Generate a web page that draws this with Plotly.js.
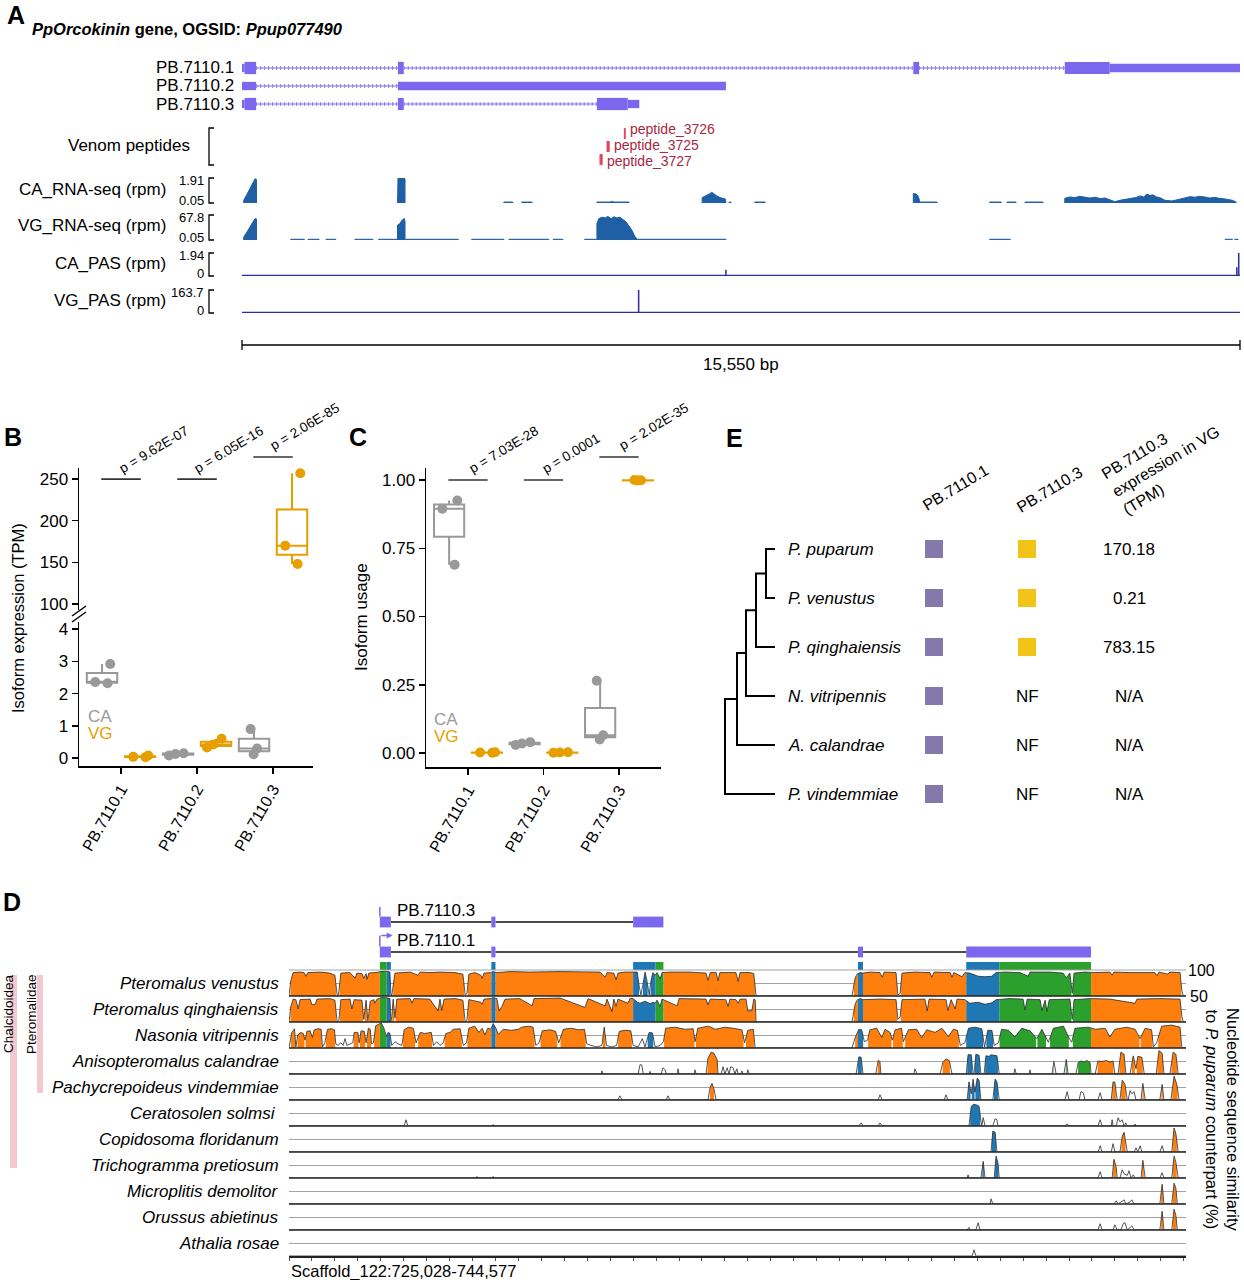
<!DOCTYPE html>
<html><head><meta charset="utf-8">
<script src="https://cdn.plot.ly/plotly-3.0.1.min.js"></script>
<style>html,body{margin:0;padding:0;background:#fff}#chart{width:1244px;height:1280px}</style>
</head><body><div id="chart"></div>
<script>
// ===================== DATA =====================
// ---- Panel A (positions in kb from gene start) ----
const geneLengthKb = 15.55;
const isoformNames = ['PB.7110.1', 'PB.7110.2', 'PB.7110.3'];
const iso1Exons = [[0, 0.04, 'u'], [0.04, 0.22, 'c'], [2.43, 2.52, 'c'], [10.46, 10.55, 'c'], [12.82, 13.52, 'c'], [13.52, 15.55, 'u']];
const iso2Exons = [[0, 0.22, 'u'], [2.43, 7.54, 'u']];
const iso3Exons = [[0, 0.04, 'u'], [0.04, 0.22, 'c'], [2.43, 2.52, 'c'], [5.53, 6.01, 'c'], [6.01, 6.19, 'u']];
const peptideNames = ['peptide_3726', 'peptide_3725', 'peptide_3727'];
const peptideStart = [5.95, 5.68, 5.57];
const peptideEnd = [5.98, 5.73, 5.62];
const trackLabels = ['Venom peptides', 'CA_RNA-seq (rpm)', 'VG_RNA-seq (rpm)', 'CA_PAS (rpm)', 'VG_PAS (rpm)'];
const caRnaRange = [0.05, 1.91];
const vgRnaRange = [0.05, 67.8];
const caPasMax = 1.94;
const vgPasMax = 163.7;
const trackScaleText = [['1.91', '0.05'], ['67.8', '0.05'], ['1.94', '0'], ['163.7', '0']];
const caRnaBlocks = [
  [[0.027, 0.25], [0.078, 0.7], [0.125, 1.1], [0.171, 1.6], [0.203, 1.85], [0.226, 1.8]],
  [[2.423, 1.75], [2.431, 1.91], [2.524, 1.91], [2.540, 1.85]],
  [[4.08, 0.12], [4.22, 0.12]],
  [[4.36, 0.12], [4.52, 0.12]],
  [[5.53, 0.12], [5.74, 0.12], [5.77, 0.17], [5.80, 0.12], [6.03, 0.12]],
  [[7.17, 0.45], [7.21, 0.55], [7.25, 0.62], [7.28, 0.72], [7.32, 0.85], [7.36, 0.7], [7.39, 0.6], [7.45, 0.45], [7.53, 0.35], [7.54, 0.12]],
  [[7.59, 0.12], [7.62, 0.12]],
  [[7.99, 0.12], [8.15, 0.12]],
  [[10.46, 0.75], [10.50, 0.72], [10.53, 0.6], [10.55, 0.35], [10.56, 0.12], [10.83, 0.12]],
  [[11.65, 0.12], [11.83, 0.12]],
  [[11.92, 0.12], [12.06, 0.12]],
  [[12.20, 0.12], [12.48, 0.12]],
  [[12.82, 0.4], [12.90, 0.5], [12.98, 0.45], [13.05, 0.55], [13.13, 0.5], [13.21, 0.42], [13.29, 0.48], [13.37, 0.38], [13.45, 0.42], [13.52, 0.3],
   [13.60, 0.15], [13.68, 0.25], [13.76, 0.3], [13.84, 0.38], [13.92, 0.45], [14.0, 0.58], [14.05, 0.5], [14.10, 0.72], [14.15, 0.6], [14.19, 0.66],
   [14.25, 0.5], [14.30, 0.45], [14.38, 0.25], [14.49, 0.2], [14.58, 0.32], [14.69, 0.45], [14.77, 0.52], [14.85, 0.48], [14.92, 0.55], [15.0, 0.5],
   [15.08, 0.42], [15.16, 0.47], [15.24, 0.38], [15.32, 0.35], [15.43, 0.25], [15.49, 0.12]]
];
const vgRnaBlocks = [
  [[0.027, 8], [0.078, 22], [0.125, 35], [0.171, 50], [0.203, 58], [0.226, 57]],
  [[0.76, 2], [0.97, 2]], [[1.03, 2], [1.20, 2]], [[1.31, 2], [1.46, 2]], [[1.76, 2], [2.04, 2]], [[2.13, 2], [2.42, 2]],
  [[2.423, 40], [2.46, 45], [2.50, 55], [2.53, 58], [2.54, 50]],
  [[2.55, 2], [3.37, 2]], [[3.58, 2], [4.08, 2]], [[4.16, 2], [4.78, 2]], [[4.85, 2], [5.00, 2]], [[5.34, 2], [5.52, 2]],
  [[5.53, 45], [5.56, 58], [5.61, 62], [5.66, 60], [5.70, 64], [5.75, 58], [5.80, 63], [5.84, 60], [5.89, 62], [5.94, 55],
   [5.98, 50], [6.03, 38], [6.08, 25], [6.12, 10], [6.15, 3], [6.16, 2], [7.54, 2]],
  [[11.65, 2], [11.97, 2]], [[15.32, 2], [15.43, 2]], [[15.47, 2], [15.52, 2]]
];
const caPasPos = [7.54, 15.50, 15.53];
const caPasVal = [0.5, 0.7, 1.94];
const vgPasPos = [6.18];
const vgPasVal = [163.7];

// ---- Panels B & C ----
const isoCats = ['PB.7110.1', 'PB.7110.2', 'PB.7110.3'];
const tpmCA = [[2.92, 2.36, 2.32], [0.15, 0.13, 0.08], [0.90, 0.30, 0.12]];
const tpmVG = [[0.08, 0.04, 0.03], [0.60, 0.42, 0.33], [257, 170, 148]];
const tpmP = ['9.62E-07', '6.05E-16', '2.06E-85'];
const usageCA = [[0.925, 0.895, 0.69], [0.04, 0.035, 0.03], [0.265, 0.065, 0.05]];
const usageVG = [[0.003, 0.002, 0.001], [0.002, 0.001, 0.003], [0.999, 0.998, 1.0]];
const usageP = ['7.03E-28', '0.0001', '2.02E-35'];

// ---- Panel E ----
const speciesE = ['P. puparum', 'P. venustus', 'P. qinghaiensis', 'N. vitripennis', 'A. calandrae', 'P. vindemmiae'];
const hasPB1 = [1, 1, 1, 1, 1, 1];
const hasPB3 = [1, 1, 1, 0, 0, 0];
const vgExpr = ['170.18', '0.21', '783.15', 'N/A', 'N/A', 'N/A'];
const treeNodes = [['n1', 4.1, 0, 1], ['n2', 3.1, 'n1', 2], ['n3', 2.1, 'n2', 3], ['n4', 1.2, 'n3', 4], ['root', 0, 'n4', 5]];
const leafDepth = 5.0;

// ---- Panel D (kb from Scaffold_122:725,028) ----
const scaffoldKb = 19.55;
const dIsoNames = ['PB.7110.3', 'PB.7110.1'];
const dIso3Exons = [[1.98, 2.22], [4.41, 4.50], [7.50, 8.16]];
const dIso1Exons = [[1.98, 2.22], [4.41, 4.50], [12.40, 12.51], [14.76, 17.48]];
const cdsRegions = [[2.13, 2.22], [4.41, 4.50], [7.50, 7.99], [12.40, 12.51], [14.76, 15.48]];
const utrRegions = [[1.98, 2.13], [7.99, 8.16], [15.48, 17.48]];
const dSpecies = ['Pteromalus venustus', 'Pteromalus qinghaiensis', 'Nasonia vitripennis', 'Anisopteromalus calandrae',
  'Pachycrepoideus vindemmiae', 'Ceratosolen solmsi ', 'Copidosoma floridanum', 'Trichogramma pretiosum',
  'Microplitis demolitor', 'Orussus abietinus', 'Athalia rosae'];
const venustusSim = [[0,50],[0.04,80],[0.09,95],[0.24,96],[0.33,95],[0.37,88],[0.41,95],[0.68,96],[0.89,94],[1.00,90],[1.05,52],[1.07,50],[1.09,60],[1.13,94],[1.33,95],[1.44,84],[1.48,94],[1.59,93],[1.63,84],[1.68,93],[1.70,82],[1.74,94],[1.87,95],[1.96,96],[2.01,98],[2.11,98],[2.16,97],[2.20,96],[2.22,55],[2.24,50],[2.27,70],[2.31,94],[2.64,96],[2.81,90],[2.86,96],[3.07,95],[3.29,96],[3.62,95],[3.79,92],[3.84,52],[3.88,55],[3.92,92],[4.05,95],[4.18,90],[4.21,84],[4.25,94],[4.40,95],[4.45,97],[4.49,96],[4.53,95],[4.82,97],[5.25,96],[5.91,97],[6.34,96],[6.78,96],[6.89,86],[6.93,95],[7.08,94],[7.13,81],[7.17,94],[7.32,96],[7.50,96],[7.59,96],[7.63,70],[7.67,52],[7.72,75],[7.76,96],[7.80,80],[7.85,52],[7.89,80],[7.93,95],[7.98,90],[8.02,95],[8.09,83],[8.13,95],[8.30,96],[8.74,96],[9.09,94],[9.13,80],[9.18,95],[9.31,95],[9.35,79],[9.39,95],[9.74,95],[9.79,78],[9.83,95],[10.05,95],[10.13,93],[10.18,50],[12.27,50],[12.34,85],[12.38,92],[12.45,95],[12.51,94],[12.67,96],[12.88,95],[12.93,86],[12.97,96],[13.23,95],[13.27,52],[13.32,55],[13.36,94],[13.64,96],[13.97,95],[14.01,86],[14.06,96],[14.41,95],[14.45,86],[14.49,95],[14.67,87],[14.73,95],[14.84,94],[15.02,88],[15.17,87],[15.32,88],[15.41,95],[15.61,96],[15.93,95],[16.11,88],[16.15,96],[16.59,96],[16.87,94],[16.94,85],[17.02,94],[17.07,55],[17.11,94],[17.35,96],[17.57,95],[17.89,96],[17.94,90],[17.98,96],[18.33,95],[18.87,95],[18.92,89],[18.96,96],[19.16,92],[19.20,96],[19.42,95],[19.46,60],[19.49,50],[19.55,50]];
const qinghaiensisSim = [[0,50],[0.04,80],[0.09,94],[0.15,93],[0.20,75],[0.24,93],[0.46,94],[0.50,83],[0.57,84],[0.61,94],[0.89,95],[1.00,92],[1.05,50],[1.09,55],[1.13,93],[1.33,94],[1.37,75],[1.42,93],[1.59,92],[1.63,55],[1.68,92],[1.72,52],[1.77,90],[1.85,93],[1.87,86],[1.92,94],[1.96,95],[2.01,97],[2.11,97],[2.16,96],[2.20,95],[2.22,50],[2.24,60],[2.27,94],[2.31,58],[2.35,94],[2.64,95],[2.68,86],[2.72,95],[3.07,94],[3.25,71],[3.29,94],[3.33,72],[3.38,94],[3.62,95],[3.79,92],[3.84,50],[3.88,55],[3.92,93],[4.18,88],[4.21,84],[4.25,94],[4.40,95],[4.45,97],[4.49,96],[4.53,95],[4.58,71],[4.64,80],[4.71,94],[5.03,95],[5.30,81],[5.34,95],[5.91,96],[6.45,78],[6.52,95],[6.89,81],[6.93,94],[7.04,70],[7.08,94],[7.13,80],[7.17,94],[7.39,86],[7.43,95],[7.50,95],[7.59,88],[7.65,86],[7.76,90],[7.87,85],[7.93,88],[7.98,86],[8.02,92],[8.09,80],[8.13,94],[8.46,81],[8.50,95],[9.09,94],[9.13,83],[9.18,94],[9.52,93],[9.57,80],[9.61,94],[9.74,93],[9.79,86],[9.83,94],[9.96,94],[10.00,71],[10.09,72],[10.13,94],[10.16,93],[10.18,50],[12.27,50],[12.34,85],[12.38,92],[12.45,95],[12.51,93],[12.88,94],[13.23,93],[13.27,55],[13.32,60],[13.36,93],[13.86,94],[13.91,71],[13.95,94],[14.32,93],[14.36,72],[14.43,93],[14.52,75],[14.56,94],[14.73,93],[14.84,86],[15.02,88],[15.17,84],[15.32,87],[15.41,93],[15.71,95],[16.00,94],[16.04,73],[16.09,94],[16.37,93],[16.41,72],[16.48,92],[16.52,70],[16.57,93],[17.02,94],[17.07,55],[17.11,93],[17.46,95],[17.89,94],[18.44,86],[18.48,94],[18.98,95],[19.42,94],[19.46,60],[19.49,50],[19.55,50]];
const nasoniaSim = [[0,50],[0.06,80],[0.12,87],[0.15,52],[0.19,75],[0.26,80],[0.31,78],[0.35,65],[0.39,82],[0.46,83],[0.51,70],[0.55,85],[0.63,87],[0.70,86],[0.73,52],[0.78,60],[0.84,86],[0.93,87],[0.99,85],[1.02,58],[1.07,55],[1.13,60],[1.18,55],[1.22,68],[1.26,55],[1.33,58],[1.39,60],[1.42,80],[1.50,80],[1.53,60],[1.57,83],[1.64,82],[1.68,60],[1.73,88],[1.77,86],[1.80,58],[1.84,60],[1.89,93],[1.95,95],[2.01,98],[2.06,90],[2.09,80],[2.13,72],[2.16,80],[2.20,78],[2.24,55],[2.31,62],[2.38,58],[2.46,55],[2.51,85],[2.60,90],[2.71,88],[2.77,60],[2.86,80],[2.96,78],[3.10,80],[3.15,55],[3.22,62],[3.29,55],[3.36,60],[3.42,78],[3.51,80],[3.58,86],[3.73,87],[3.80,55],[3.87,60],[3.92,88],[4.05,92],[4.14,80],[4.21,88],[4.27,75],[4.33,88],[4.40,86],[4.45,97],[4.51,88],[4.56,76],[4.67,86],[4.85,84],[5.00,86],[5.07,90],[5.22,92],[5.32,90],[5.38,55],[5.45,60],[5.52,83],[5.69,85],[5.81,82],[5.88,60],[5.98,86],[6.16,88],[6.31,85],[6.44,86],[6.49,58],[6.58,55],[6.71,52],[6.82,55],[6.87,90],[6.92,55],[7.03,52],[7.14,55],[7.20,82],[7.32,84],[7.45,83],[7.50,55],[7.61,52],[7.70,68],[7.76,52],[7.85,80],[7.92,79],[7.98,52],[8.09,55],[8.16,62],[8.21,88],[8.41,90],[8.63,86],[8.81,87],[8.85,62],[8.91,88],[9.14,92],[9.29,86],[9.50,90],[9.68,88],[9.79,86],[9.87,85],[9.93,60],[10.00,84],[10.12,86],[10.16,50],[12.27,50],[12.34,70],[12.42,86],[12.48,85],[12.54,62],[12.61,65],[12.66,85],[12.81,88],[12.92,70],[12.99,86],[13.10,80],[13.15,65],[13.21,85],[13.35,88],[13.39,62],[13.50,85],[13.68,86],[13.79,70],[13.90,85],[14.08,80],[14.23,88],[14.37,72],[14.48,86],[14.57,84],[14.63,55],[14.73,60],[14.81,88],[14.95,90],[15.10,87],[15.16,52],[15.23,84],[15.32,84],[15.37,55],[15.46,60],[15.53,86],[15.68,84],[15.82,71],[15.97,88],[16.15,83],[16.30,68],[16.41,86],[16.55,61],[16.66,88],[16.88,92],[16.99,71],[17.06,61],[17.13,88],[17.42,90],[17.57,86],[17.79,88],[17.89,71],[18.00,86],[18.26,90],[18.44,86],[18.55,68],[18.66,88],[18.80,85],[18.84,52],[18.91,60],[19.02,92],[19.24,94],[19.42,90],[19.46,50],[19.55,50]];
const calandraeSim = [[0,50],[6.80,50],[6.82,56],[6.84,50],[7.61,50],[7.65,68],[7.69,67],[7.72,50],[7.85,50],[7.87,55],[7.89,50],[8.11,50],[8.15,62],[8.20,58],[8.22,50],[8.46,50],[8.48,60],[8.50,50],[8.83,50],[8.85,58],[8.87,50],[9.09,50],[9.13,80],[9.20,92],[9.26,90],[9.33,78],[9.35,50],[9.42,50],[9.46,64],[9.50,50],[9.55,62],[9.59,50],[9.63,64],[9.68,62],[9.72,50],[9.76,60],[9.79,50],[9.85,50],[9.87,56],[9.90,50],[9.98,50],[10.00,58],[10.03,50],[12.36,50],[12.42,83],[12.47,82],[12.51,50],[12.79,50],[12.84,76],[12.88,74],[12.90,50],[13.62,50],[13.64,60],[13.69,50],[14.19,50],[14.25,72],[14.32,79],[14.39,76],[14.45,50],[14.76,50],[14.80,87],[14.87,87],[14.91,50],[14.93,50],[14.97,88],[15.04,86],[15.08,50],[15.15,50],[15.19,85],[15.26,84],[15.30,87],[15.37,86],[15.43,85],[15.48,50],[15.80,50],[15.82,60],[15.85,50],[16.13,50],[16.15,58],[16.17,50],[16.63,50],[16.67,74],[16.72,50],[16.89,50],[16.94,78],[16.98,50],[17.15,50],[17.20,72],[17.26,75],[17.33,73],[17.39,76],[17.46,72],[17.48,50],[17.57,50],[17.63,75],[17.72,74],[17.81,76],[17.89,73],[17.96,75],[18.00,50],[18.07,50],[18.13,92],[18.20,88],[18.24,50],[18.33,50],[18.40,85],[18.46,60],[18.50,84],[18.59,82],[18.64,50],[18.90,50],[18.96,95],[19.03,90],[19.07,50],[19.20,50],[19.27,92],[19.33,88],[19.38,50],[19.55,50]];
const vindemmiaeSim = [[0,50],[7.17,50],[7.21,58],[7.26,50],[8.22,50],[8.26,58],[8.30,50],[9.13,50],[9.18,75],[9.22,82],[9.26,72],[9.31,50],[12.84,50],[12.88,60],[12.93,50],[14.28,50],[14.32,60],[14.36,50],[14.78,50],[14.82,85],[14.87,62],[14.91,90],[14.95,65],[15.00,92],[15.04,88],[15.08,50],[15.34,50],[15.39,90],[15.43,85],[15.48,50],[16.91,50],[16.96,66],[17.00,50],[17.22,50],[17.26,66],[17.31,64],[17.35,50],[17.63,50],[17.68,64],[17.72,50],[17.92,50],[17.96,85],[18.00,84],[18.05,50],[18.11,50],[18.16,88],[18.22,80],[18.27,50],[18.29,50],[18.33,68],[18.37,62],[18.42,66],[18.46,50],[18.57,50],[18.61,82],[18.66,50],[18.98,50],[19.03,80],[19.07,50],[19.22,50],[19.29,96],[19.35,80],[19.40,50],[19.55,50]];
const solmsiSim = [[0,50],[2.51,50],[2.55,62],[2.59,50],[4.42,50],[4.45,53],[4.47,50],[12.42,50],[12.47,56],[12.51,50],[12.84,50],[12.88,56],[12.93,50],[14.82,50],[14.87,88],[14.93,92],[15.00,90],[15.04,88],[15.08,60],[15.10,50],[15.13,66],[15.17,50],[15.34,50],[15.39,64],[15.43,62],[15.45,50],[16.91,50],[16.96,54],[17.00,50],[17.63,50],[17.68,62],[17.72,50],[17.92,50],[17.94,62],[17.96,50],[18.03,50],[18.07,66],[18.11,58],[18.16,62],[18.20,50],[18.24,56],[18.27,50],[18.42,50],[18.44,54],[18.46,50],[19.55,50]];
const floridanumSim = [[0,50],[15.30,50],[15.34,90],[15.39,88],[15.43,50],[17.63,50],[17.68,62],[17.72,50],[17.92,50],[17.96,66],[18.00,50],[18.11,50],[18.16,80],[18.20,88],[18.27,50],[18.42,50],[18.46,58],[18.50,50],[18.55,62],[18.59,50],[18.98,50],[19.03,62],[19.07,50],[19.24,50],[19.29,96],[19.33,85],[19.38,50],[19.55,50]];
const pretiosumSim = [[0,50],[4.08,50],[4.10,53],[4.12,50],[4.42,50],[4.45,53],[4.47,50],[14.78,50],[14.80,56],[14.82,50],[15.08,50],[15.13,82],[15.17,50],[15.37,50],[15.41,92],[15.45,80],[15.48,50],[17.63,50],[17.68,62],[17.72,50],[17.94,50],[17.98,86],[18.03,70],[18.05,50],[18.11,50],[18.16,66],[18.20,58],[18.27,55],[18.31,64],[18.35,50],[18.40,56],[18.44,50],[18.57,50],[18.61,84],[18.66,50],[18.98,50],[19.03,60],[19.07,50],[19.24,50],[19.29,92],[19.33,80],[19.38,50],[19.55,50]];
const demolitorSim = [[0,50],[15.28,50],[15.30,60],[15.34,50],[17.98,50],[18.03,56],[18.07,50],[18.16,55],[18.20,58],[18.24,50],[18.33,54],[18.37,58],[18.42,50],[18.98,50],[19.03,88],[19.07,50],[19.24,50],[19.29,90],[19.33,80],[19.36,50],[19.55,50]];
const abietinusSim = [[0,50],[14.78,50],[14.82,55],[14.84,50],[14.97,50],[15.02,64],[15.06,50],[17.63,50],[17.68,62],[17.72,50],[17.96,50],[18.00,60],[18.05,50],[18.13,50],[18.18,62],[18.22,64],[18.27,50],[18.33,55],[18.37,58],[18.42,50],[18.98,50],[19.03,86],[19.07,50],[19.24,50],[19.29,90],[19.33,78],[19.36,50],[19.55,50]];
const rosaeSim = [[0,50],[14.89,50],[14.93,62],[14.97,50],[19.55,50]];
const dProfiles = [venustusSim, qinghaiensisSim, nasoniaSim, calandraeSim, vindemmiaeSim, solmsiSim, floridanumSim, pretiosumSim, demolitorSim, abietinusSim, rosaeSim];
const conservedThreshold = 70;

// ===================== LAYOUT HELPERS =====================
const W = 1244, H = 1280;
const FONT = 'Liberation Sans, Arial, Helvetica, sans-serif';
const px = v => v / W;
const py = v => 1 - v / H;
const xdom = (a, b) => [px(a), px(b)];
const ydom = (top, bottom) => [py(bottom), py(top)];
const GENE = '#7b68ee', RNA = '#1f5fa6', PAS = '#2e2ea0';
const GRAY = '#999999', ORANGE = '#E69F00';
const COL = {cns: '#ff7f0e', cds: '#1f77b4', utr: '#2ca02c'};

const traces = [], shapes = [], annotations = [];
const layout = {
  width: W, height: H, margin: {l: 0, r: 0, t: 0, b: 0},
  paper_bgcolor: '#ffffff', plot_bgcolor: 'rgba(0,0,0,0)', showlegend: false, boxmode: 'overlay',
  font: {family: FONT, size: 16, color: '#000'}, shapes, annotations
};
function fnt(size, color, extra) { return Object.assign({family: FONT, size: size, color: color || '#000'}, extra || {}); }
function label(text, x, y, size, opts) {
  annotations.push(Object.assign({text: text, x: x, y: y, xref: 'paper', yref: 'paper', showarrow: false,
    font: fnt(size || 17), xanchor: 'center', yanchor: 'middle'}, opts || {}));
}
function hidden(extra) { return Object.assign({visible: false, showgrid: false, zeroline: false, fixedrange: true}, extra); }
function bracket(top, bottom) {
  const p = 'M' + px(214) + ',' + py(top) + ' L' + px(209) + ',' + py(top) + ' L' + px(209) + ',' + py(bottom) + ' L' + px(214) + ',' + py(bottom);
  shapes.push({type: 'path', xref: 'paper', yref: 'paper', path: p, line: {color: '#000', width: 1.3}});
}
function blocksPoly(blocks, base) {
  const xs = [], ys = [];
  blocks.forEach(b => {
    xs.push(b[0][0]); ys.push(base);
    b.forEach(p => { xs.push(p[0]); ys.push(p[1]); });
    xs.push(b[b.length - 1][0]); ys.push(base);
    xs.push(null); ys.push(null);
  });
  return {xs, ys};
}

// panel letters
[['A', 16, 15], ['B', 13, 437], ['C', 358, 437], ['E', 734, 438], ['D', 12, 902]].forEach(([t, x, y]) =>
  label('<b>' + t + '</b>', px(x), py(y), 25));

// ===================== PANEL A =====================
layout.xaxis = hidden({domain: xdom(242, 1240), range: [0, geneLengthKb], anchor: 'y'});
layout.yaxis = hidden({domain: ydom(59, 113), range: [3.5, 0.5], anchor: 'x'});
layout.yaxis2 = hidden({domain: ydom(127, 166), range: [0, 3], anchor: 'x'});
layout.yaxis3 = hidden({domain: ydom(178, 203), range: caRnaRange, anchor: 'x'});
layout.yaxis4 = hidden({domain: ydom(215, 240), range: vgRnaRange, anchor: 'x'});
layout.yaxis5 = hidden({domain: ydom(253, 276), range: [-0.05, caPasMax], anchor: 'x'});
layout.yaxis6 = hidden({domain: ydom(290, 313), range: [-4, vgPasMax], anchor: 'x'});
bracket(128, 165);
[[178, 203], [215, 240], [253, 276], [290, 313]].forEach(([t, b], i) => {
  bracket(t, b);
  label(trackScaleText[i][0], px(206), py(t + 2), 13, {xanchor: 'right'});
  label(trackScaleText[i][1], px(206), py(b - 3), 13, {xanchor: 'right'});
});

label('<b><i>PpOrcokinin</i> gene, OGSID: <i>Ppup077490</i></b>', px(30), py(29), 16.5, {xanchor: 'left'});

[iso1Exons, iso2Exons, iso3Exons].forEach((exons, i) => {
  const row = i + 1;
  for (let k = 0; k < exons.length - 1; k++) {
    const a = exons[k][1], b = exons[k + 1][0];
    if (b - a > 0.01) {
      shapes.push({type: 'line', xref: 'x', yref: 'y', x0: a, x1: b, y0: row, y1: row, line: {color: GENE, width: 1}});
      shapes.push({type: 'line', xref: 'x', yref: 'y', x0: a, x1: b, y0: row, y1: row, opacity: 0.8, line: {color: GENE, width: 4, dash: '1px,3px'}});
    }
  }
  exons.forEach(([s, e, kind]) => {
    const h = kind === 'c' ? 0.34 : 0.23;
    shapes.push({type: 'rect', xref: 'x', yref: 'y', x0: s, x1: e, y0: row - h, y1: row + h, fillcolor: GENE, line: {width: 0}});
  });
  label(isoformNames[i], px(236), py(68 + 18 * i), 17, {xanchor: 'right'});
});

const peptideLabelY = [129, 145, 161];
peptideNames.forEach((n, i) => {
  const row = 2.5 - i;
  shapes.push({type: 'rect', xref: 'x', yref: 'y2', x0: peptideStart[i], x1: peptideEnd[i], y0: row - 0.42, y1: row + 0.42, fillcolor: '#e8455c', line: {width: 0}});
  annotations.push({text: n, xref: 'x', yref: 'paper', x: peptideEnd[i], y: py(peptideLabelY[i]), xanchor: 'left', yanchor: 'middle', xshift: 2,
    showarrow: false, font: fnt(14, '#a8283e')});
});

[[trackLabels[0], 192, 145], [trackLabels[1], 168, 189], [trackLabels[2], 168, 226], [trackLabels[3], 168, 263], [trackLabels[4], 168, 300]]
  .forEach(([t, x, y]) => label(t, px(x), py(y), 17, {xanchor: 'right'}));

const caPoly = blocksPoly(caRnaBlocks, 0);
traces.push({type: 'scatter', mode: 'lines', x: caPoly.xs, y: caPoly.ys, xaxis: 'x', yaxis: 'y3', fill: 'toself', fillcolor: RNA, line: {color: RNA, width: 1}, hoverinfo: 'skip'});
const vgPoly = blocksPoly(vgRnaBlocks, 0);
traces.push({type: 'scatter', mode: 'lines', x: vgPoly.xs, y: vgPoly.ys, xaxis: 'x', yaxis: 'y4', fill: 'toself', fillcolor: RNA, line: {color: RNA, width: 1}, hoverinfo: 'skip'});
traces.push({type: 'scatter', mode: 'lines', x: [0, geneLengthKb], y: [0, 0], xaxis: 'x', yaxis: 'y5', line: {color: PAS, width: 1.5}, hoverinfo: 'skip'});
traces.push({type: 'bar', x: caPasPos, y: caPasVal, width: 0.024, xaxis: 'x', yaxis: 'y5', marker: {color: PAS, line: {width: 0}}, hoverinfo: 'skip'});
traces.push({type: 'scatter', mode: 'lines', x: [0, geneLengthKb], y: [0, 0], xaxis: 'x', yaxis: 'y6', line: {color: PAS, width: 1.5}, hoverinfo: 'skip'});
traces.push({type: 'bar', x: vgPasPos, y: vgPasVal, width: 0.024, xaxis: 'x', yaxis: 'y6', marker: {color: PAS, line: {width: 0}}, hoverinfo: 'skip'});

// scale bar spanning the genomic axis domain
const aDom = layout.xaxis.domain;
shapes.push({type: 'line', xref: 'paper', yref: 'paper', x0: aDom[0], x1: aDom[1], y0: py(345), y1: py(345), line: {color: '#000', width: 1.3}});
shapes.push({type: 'line', xref: 'paper', yref: 'paper', x0: aDom[0], x1: aDom[0], y0: py(340), y1: py(350), line: {color: '#000', width: 1.3}});
shapes.push({type: 'line', xref: 'paper', yref: 'paper', x0: aDom[1], x1: aDom[1], y0: py(340), y1: py(350), line: {color: '#000', width: 1.3}});
label(Math.round(geneLengthKb * 1000).toLocaleString('en-US') + ' bp', (aDom[0] + aDom[1]) / 2, py(364), 17);

// ===================== PANELS B & C =====================
function catAxis(domA, domB, range, anchor) {
  return {domain: xdom(domA, domB), range: range, anchor: anchor, tickvals: [1, 2, 3], ticktext: isoCats, tickangle: -60,
    ticks: 'outside', ticklen: 6, tickwidth: 1.5, tickcolor: '#000', showline: true, linewidth: 1.5, linecolor: '#000',
    tickfont: fnt(16), showgrid: false, zeroline: false, fixedrange: true};
}
function valAxis(top, bottom, range, tickvals, ticktext, anchor) {
  return {domain: ydom(top, bottom), range: range, anchor: anchor, tickvals: tickvals, ticktext: ticktext,
    ticks: 'outside', ticklen: 6, tickwidth: 1.5, tickcolor: '#000', showline: true, linewidth: 1.5, linecolor: '#000',
    tickfont: fnt(17), showgrid: false, zeroline: false, fixedrange: true};
}
function boxTrace(vals, cats, offset, color, xa, ya) {
  const x = [], y = [];
  cats.forEach((c, i) => vals[i].forEach(v => { x.push(c + offset); y.push(v); }));
  return {type: 'box', x: x, y: y, xaxis: xa, yaxis: ya, boxpoints: 'all', jitter: 0.7, pointpos: 0, width: 0.4,
    whiskerwidth: 0, quartilemethod: 'inclusive', fillcolor: 'rgba(255,255,255,0)', line: {color: color, width: 2},
    marker: {color: color, size: 10, line: {width: 0}}, hoverinfo: 'skip'};
}
// B
layout.xaxis2 = catAxis(79, 313, [0.447, 3.526], 'y7');
layout.yaxis7 = valAxis(622, 766, [-0.244, 4.22], [0, 1, 2, 3, 4], ['0', '1', '2', '3', '4'], 'x2');
layout.yaxis8 = valAxis(468, 610, [92.7, 263.4], [100, 150, 200, 250], ['100', '150', '200', '250'], 'x2');
traces.push(boxTrace(tpmCA, [1, 2, 3], -0.25, GRAY, 'x2', 'y7'));
traces.push(boxTrace(tpmVG.slice(0, 2), [1, 2], 0.25, ORANGE, 'x2', 'y7'));
traces.push(boxTrace(tpmVG.slice(2), [3], 0.25, ORANGE, 'x2', 'y8'));
shapes.push({type: 'line', xref: 'paper', yref: 'paper', x0: px(72), x1: px(86), y0: py(622), y1: py(612), line: {color: '#000', width: 1.5}});
shapes.push({type: 'line', xref: 'paper', yref: 'paper', x0: px(72), x1: px(86), y0: py(616), y1: py(606), line: {color: '#000', width: 1.5}});
label('Isoform expression (TPM)', px(18), py(618), 16.5, {textangle: -90});
label('CA', px(100), py(716), 17, {font: fnt(17, GRAY)});
label('VG', px(100), py(733), 17, {font: fnt(17, ORANGE)});
// C
layout.xaxis3 = catAxis(426, 661, [0.444, 3.556], 'y9');
layout.yaxis9 = valAxis(468, 767, [-0.051, 1.044], [0, 0.25, 0.5, 0.75, 1], ['0.00', '0.25', '0.50', '0.75', '1.00'], 'x3');
traces.push(boxTrace(usageCA, [1, 2, 3], -0.25, GRAY, 'x3', 'y9'));
traces.push(boxTrace(usageVG, [1, 2, 3], 0.25, ORANGE, 'x3', 'y9'));
label('Isoform usage', px(361), py(617), 17, {textangle: -90});
label('CA', px(446), py(719), 17, {font: fnt(17, GRAY)});
label('VG', px(446), py(736), 17, {font: fnt(17, ORANGE)});

// significance bars and p labels
function sigBars(xa, ya, yval, pvals, labelStarts) {
  [1, 2, 3].forEach((c, i) => {
    const bar = {type: 'line', xref: xa, x0: c - 0.26, x1: c + 0.26, line: {color: '#333', width: 1.6}};
    if (i < 2) Object.assign(bar, {yref: ya, y0: yval, y1: yval});
    else Object.assign(bar, {yref: 'paper', y0: py(457), y1: py(457)});
    shapes.push(bar);
    label('p = ' + pvals[i], px(labelStarts[i][0]), py(labelStarts[i][1]), 13.5, {textangle: -31, xanchor: 'left', yanchor: 'bottom'});
  });
}
sigBars('x2', 'y8', 250, tpmP, [[114, 479], [189, 479], [265, 456]]);
sigBars('x3', 'y9', 1.0, usageP, [[464, 479], [537, 479], [614, 456]]);

// ===================== PANEL E =====================
layout.xaxis4 = hidden({domain: xdom(700, 1244), range: [-2.5, 51.9], anchor: 'y10'});
layout.yaxis10 = hidden({domain: ydom(524.5, 818.5), range: [5.5, -0.5], anchor: 'x4'});
const colSpecies = 6.1, colPB1 = 20.9, colPB3 = 30.2, colExpr = 40.4;
(function drawTree() {
  const nodeY = {}, nodeD = {};
  const tx = [], ty = [];
  treeNodes.forEach(([id, depth, a, b]) => {
    const ya = typeof a === 'number' ? a : nodeY[a];
    const yb = typeof b === 'number' ? b : nodeY[b];
    const da = typeof a === 'number' ? leafDepth : nodeD[a];
    const db = typeof b === 'number' ? leafDepth : nodeD[b];
    nodeY[id] = (ya + yb) / 2; nodeD[id] = depth;
    tx.push(da, depth, depth, db, null); ty.push(ya, ya, yb, yb, null);
  });
  traces.push({type: 'scatter', mode: 'lines', x: tx, y: ty, xaxis: 'x4', yaxis: 'y10', line: {color: '#000', width: 2}, hoverinfo: 'skip'});
})();
const rowsE = speciesE.map((s, i) => i);
traces.push({type: 'scatter', mode: 'markers', x: rowsE.filter(i => hasPB1[i]).map(() => colPB1), y: rowsE.filter(i => hasPB1[i]),
  xaxis: 'x4', yaxis: 'y10', marker: {symbol: 'square', size: 18, color: '#8479aa', line: {width: 0}}, hoverinfo: 'skip'});
traces.push({type: 'scatter', mode: 'markers', x: rowsE.filter(i => hasPB3[i]).map(() => colPB3), y: rowsE.filter(i => hasPB3[i]),
  xaxis: 'x4', yaxis: 'y10', marker: {symbol: 'square', size: 18, color: '#f2c418', line: {width: 0}}, hoverinfo: 'skip'});
speciesE.forEach((s, i) => {
  annotations.push({text: '<i>' + s + '</i>', xref: 'x4', yref: 'y10', x: colSpecies, y: i, xanchor: 'left', yanchor: 'middle', showarrow: false, font: fnt(17)});
  if (!hasPB3[i]) annotations.push({text: 'NF', xref: 'x4', yref: 'y10', x: colPB3, y: i, showarrow: false, font: fnt(17)});
  annotations.push({text: vgExpr[i], xref: 'x4', yref: 'y10', x: colExpr, y: i, showarrow: false, font: fnt(17)});
});
label('PB.7110.1', px(917), py(517), 16, {textangle: -31, xanchor: 'left', yanchor: 'bottom'});
label('PB.7110.3', px(1011), py(519), 16, {textangle: -31, xanchor: 'left', yanchor: 'bottom'});
label('PB.7110.3<br>expression in VG<br>(TPM)', px(1096), py(521), 16, {textangle: -31, xanchor: 'left', yanchor: 'bottom', align: 'left'});

// ===================== PANEL D =====================
layout.xaxis5 = {domain: xdom(289, 1186), range: [0, scaffoldKb], anchor: 'y22', showline: true, linecolor: '#222', linewidth: 1.5,
  ticks: 'outside', ticklen: 3, tickwidth: 1, tickcolor: '#555', tickmode: 'linear', tick0: 0, dtick: 0.5,
  showticklabels: false, showgrid: false, zeroline: false, fixedrange: true};
layout.yaxis11 = hidden({domain: ydom(907, 967), range: [2.5, 0.5], anchor: 'x5'});
[dIso3Exons, dIso1Exons].forEach((exons, i) => {
  const row = i + 1;
  for (let k = 0; k < exons.length - 1; k++) {
    shapes.push({type: 'line', xref: 'x5', yref: 'y11', x0: exons[k][1], x1: exons[k + 1][0], y0: row, y1: row, line: {color: '#111', width: 1.5}});
  }
  exons.forEach(([s, e]) => shapes.push({type: 'rect', xref: 'x5', yref: 'y11', x0: s, x1: e, y0: row - 0.18, y1: row + 0.18, fillcolor: GENE, line: {width: 0}}));
  const tss = exons[0][0];
  shapes.push({type: 'line', xref: 'x5', yref: 'y11', x0: tss, x1: tss, y0: row - 0.18, y1: row - 0.55, line: {color: GENE, width: 1.5}});
  annotations.push({text: '', xref: 'x5', yref: 'y11', axref: 'x5', ayref: 'y11', x: tss + 0.28, y: row - 0.55, ax: tss, ay: row - 0.55,
    showarrow: true, arrowhead: 2, arrowsize: 0.8, arrowwidth: 1.5, arrowcolor: GENE, standoff: 0});
  annotations.push({text: dIsoNames[i], xref: 'x5', yref: 'y11', x: tss + 0.33, y: row - 0.37, xanchor: 'left', yanchor: 'middle', showarrow: false, font: fnt(17)});
});
cdsRegions.forEach(r => shapes.push({type: 'rect', xref: 'x5', yref: 'paper', x0: r[0], x1: r[1], y0: py(970), y1: py(962), fillcolor: COL.cds, line: {width: 0}}));
utrRegions.forEach(r => shapes.push({type: 'rect', xref: 'x5', yref: 'paper', x0: r[0], x1: r[1], y0: py(970), y1: py(962), fillcolor: COL.utr, line: {width: 0}}));

const annBounds = cdsRegions.concat(utrRegions).flat();
function classify(x) {
  for (const r of cdsRegions) if (x >= r[0] && x <= r[1]) return 'cds';
  for (const r of utrRegions) if (x >= r[0] && x <= r[1]) return 'utr';
  return 'cns';
}
function refine(profile, thr) {
  const out = [];
  for (let k = 0; k < profile.length; k++) {
    const [x0, v0] = profile[k];
    out.push([x0, v0]);
    if (k + 1 < profile.length) {
      const [x1, v1] = profile[k + 1];
      const extra = [];
      if ((v0 - thr) * (v1 - thr) < 0) extra.push(x0 + (thr - v0) / (v1 - v0) * (x1 - x0));
      annBounds.forEach(b => { if (b > x0 && b < x1) extra.push(b); });
      extra.sort((a, b) => a - b).forEach(x => out.push([x, v0 + (v1 - v0) * (x - x0) / (x1 - x0)]));
    }
  }
  return out;
}
function conservedPolys(profile) {
  const pts = refine(profile, conservedThreshold);
  const polys = {cns: {x: [], y: []}, cds: {x: [], y: []}, utr: {x: [], y: []}};
  const BASE = 46;
  let run = null, runCls = null;
  function flush() {
    if (run && run.length > 1) {
      const p = polys[runCls];
      p.x.push(run[0][0]); p.y.push(BASE);
      run.forEach(q => { p.x.push(q[0]); p.y.push(q[1]); });
      p.x.push(run[run.length - 1][0]); p.y.push(BASE);
      p.x.push(null); p.y.push(null);
    }
    run = null; runCls = null;
  }
  for (let k = 0; k < pts.length - 1; k++) {
    const a = pts[k], b = pts[k + 1];
    const above = a[1] >= conservedThreshold - 1e-9 && b[1] >= conservedThreshold - 1e-9;
    if (!above) { flush(); continue; }
    const cls = classify((a[0] + b[0]) / 2);
    if (run && cls === runCls) run.push(b);
    else { flush(); run = [a, b]; runCls = cls; }
  }
  flush();
  return polys;
}
dSpecies.forEach((name, i) => {
  const n = 12 + i, yid = 'y' + n;
  const top = 970 + 26 * i, bottom = top + 26;
  layout['yaxis' + n] = {domain: ydom(top, bottom), range: [50, 100], anchor: 'x5', tickvals: [75], showticklabels: false, ticks: '',
    showgrid: true, gridcolor: '#a3a3a3', gridwidth: 1, zeroline: false, showline: false, fixedrange: true};
  const polys = conservedPolys(dProfiles[i]);
  ['cns', 'cds', 'utr'].forEach(c => {
    if (polys[c].x.length) traces.push({type: 'scatter', mode: 'lines', x: polys[c].x, y: polys[c].y, xaxis: 'x5', yaxis: yid,
      fill: 'toself', fillcolor: COL[c], line: {width: 0}, hoverinfo: 'skip'});
  });
  const prof = dProfiles[i];
  traces.push({type: 'scatter', mode: 'lines', x: prof.map(p => p[0]), y: prof.map(p => p[1]), xaxis: 'x5', yaxis: yid,
    line: {color: '#2a2a2a', width: 0.8}, hoverinfo: 'skip'});
  if (i < dSpecies.length - 1) shapes.push({type: 'line', xref: 'x5', yref: 'paper', x0: 0, x1: scaffoldKb, y0: py(bottom), y1: py(bottom), layer: 'above', line: {color: '#222', width: 1.5}});
  label('<i>' + name + '</i>', px(281), py(top + 13), 17, {xanchor: 'right'});
});
shapes.push({type: 'line', xref: 'x5', yref: 'paper', x0: 0, x1: scaffoldKb, y0: py(970), y1: py(970), line: {color: '#a3a3a3', width: 1}});
label('100', px(1186), py(970), 16, {xanchor: 'left'});
label('50', px(1188), py(996), 16, {xanchor: 'left'});
label('Nucleotide sequence similarity<br>to <i>P. puparum</i> counterpart (%)', px(1223), py(1120), 16.5, {textangle: 90});
label('Scaffold_122:725,028-744,577', px(289), py(1271), 16.5, {xanchor: 'left'});
// taxon bars
shapes.push({type: 'rect', xref: 'paper', yref: 'paper', x0: px(10), x1: px(17), y0: py(1168), y1: py(975), fillcolor: '#f3c8ce', line: {width: 0}});
shapes.push({type: 'rect', xref: 'paper', yref: 'paper', x0: px(37), x1: px(43), y0: py(1093), y1: py(975), fillcolor: '#f3c8ce', line: {width: 0}});
label('Chalcidoidea', px(8), py(1014), 13.5, {textangle: -90});
label('Pteromalidae', px(31), py(1014), 13.5, {textangle: -90});

Plotly.newPlot('chart', traces, layout, {staticPlot: true, displayModeBar: false});
</script></body></html>
